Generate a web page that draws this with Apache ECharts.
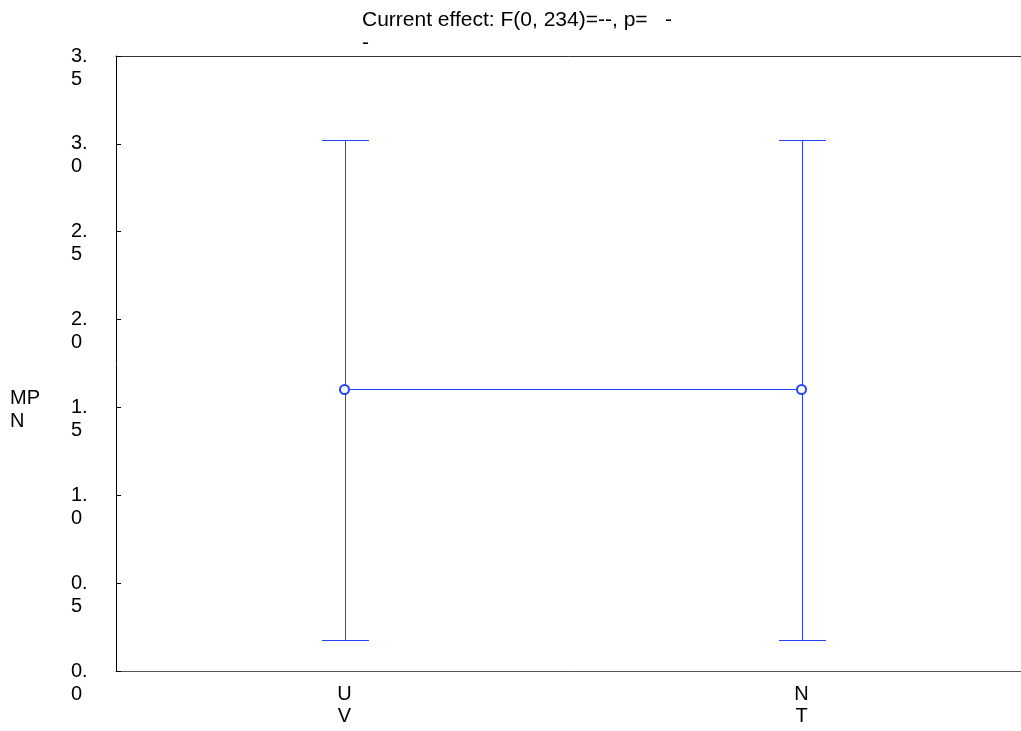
<!DOCTYPE html>
<html>
<head>
<meta charset="utf-8">
<script src="https://cdn.jsdelivr.net/npm/echarts@6/dist/echarts.min.js"></script>
<style>html,body{margin:0;padding:0;background:#fff}#c{width:1021px;height:731px}</style>
</head>
<body>
<div id="c"></div>
<script>
const categories = ['UV', 'NT'];
const means = [1.602, 1.602];
const upper = [3.022, 3.022];
const lower = [0.179, 0.179];
const yTicks = [0, 0.5, 1.0, 1.5, 2.0, 2.5, 3.0, 3.5];
const titleText = 'Current effect: F(0, 234)=--, p=   -\n-';
const yName = 'MP\nN';

const FONT = 'Liberation Sans, Arial, sans-serif';
const FS = 20;
const LH = 23;
const BLUE = '#2244ff';
const chart = echarts.init(document.getElementById('c'), null, {renderer: 'canvas'});
const errData = categories.map((c, i) => [i, lower[i], upper[i]]);
const px = v => Math.round(v) + 0.5;

chart.setOption({
  animation: false,
  title: {
    text: titleText, left: 357, top: 4,
    textStyle: {fontFamily: FONT, fontSize: 21, fontWeight: 'normal', color: '#000', lineHeight: LH, align: 'left'}
  },
  graphic: [{
    type: 'text', left: 10, top: 387,
    style: {text: yName, fontFamily: FONT, fontSize: FS, fill: '#000', lineHeight: LH}
  }],
  grid: {left: 116, width: 914, top: 56, bottom: 60, outerBoundsMode: 'none', containLabel: false},
  xAxis: [{
    type: 'category', data: categories, position: 'bottom',
    axisLine: {lineStyle: {color: '#555', width: 1}},
    axisTick: {inside: true, length: 4, alignWithLabel: true, lineStyle: {color: '#555'}},
    axisLabel: {
      fontFamily: FONT, fontSize: FS, color: '#000', lineHeight: 22, margin: 12,
      formatter: v => v.split('').join('\n')
    },
    splitLine: {show: false}
  }, {
    type: 'category', data: categories, position: 'top',
    axisLine: {lineStyle: {color: '#333', width: 1}},
    axisTick: {inside: true, length: 5, alignWithLabel: true, lineStyle: {color: '#555'}},
    axisLabel: {show: false},
    splitLine: {show: false}
  }],
  yAxis: {
    type: 'value', min: yTicks[0], max: yTicks[yTicks.length - 1], interval: 0.5,
    axisLine: {show: true, lineStyle: {color: '#000', width: 1}},
    axisTick: {show: true, inside: true, length: 5, lineStyle: {color: '#000'}},
    splitLine: {show: false},
    axisLabel: {
      fontFamily: FONT, fontSize: FS, color: '#000', lineHeight: LH, align: 'left', margin: 45,
      verticalAlign: 'middle',
      formatter: v => {
        const s = v.toFixed(1);
        const k = s.indexOf('.');
        return '\u00a0\n' + s.slice(0, k + 1) + '\n' + s.slice(k + 1);
      }
    }
  },
  series: [{
    type: 'custom',
    data: errData,
    itemStyle: {color: BLUE},
    renderItem: (params, api) => {
      const x = api.value(0);
      const lo = api.coord([x, api.value(1)]);
      const hi = api.coord([x, api.value(2)]);
      const cx = px(hi[0]), yh = px(hi[1]), yl = px(lo[1]);
      const hw = 23.5;
      const st = {stroke: BLUE, lineWidth: 1, fill: null};
      return {type: 'group', children: [
        {type: 'line', shape: {x1: cx, y1: yh, x2: cx, y2: yl}, style: st},
        {type: 'line', shape: {x1: cx - hw, y1: yh, x2: cx + hw, y2: yh}, style: st},
        {type: 'line', shape: {x1: cx - hw, y1: yl, x2: cx + hw, y2: yl}, style: st}
      ]};
    },
    z: 2
  }, {
    type: 'line', data: means,
    symbol: 'emptyCircle', symbolSize: 9,
    lineStyle: {color: BLUE, width: 1},
    itemStyle: {color: BLUE, borderColor: BLUE, borderWidth: 1},
    z: 3
  }]
});
</script>
</body>
</html>
